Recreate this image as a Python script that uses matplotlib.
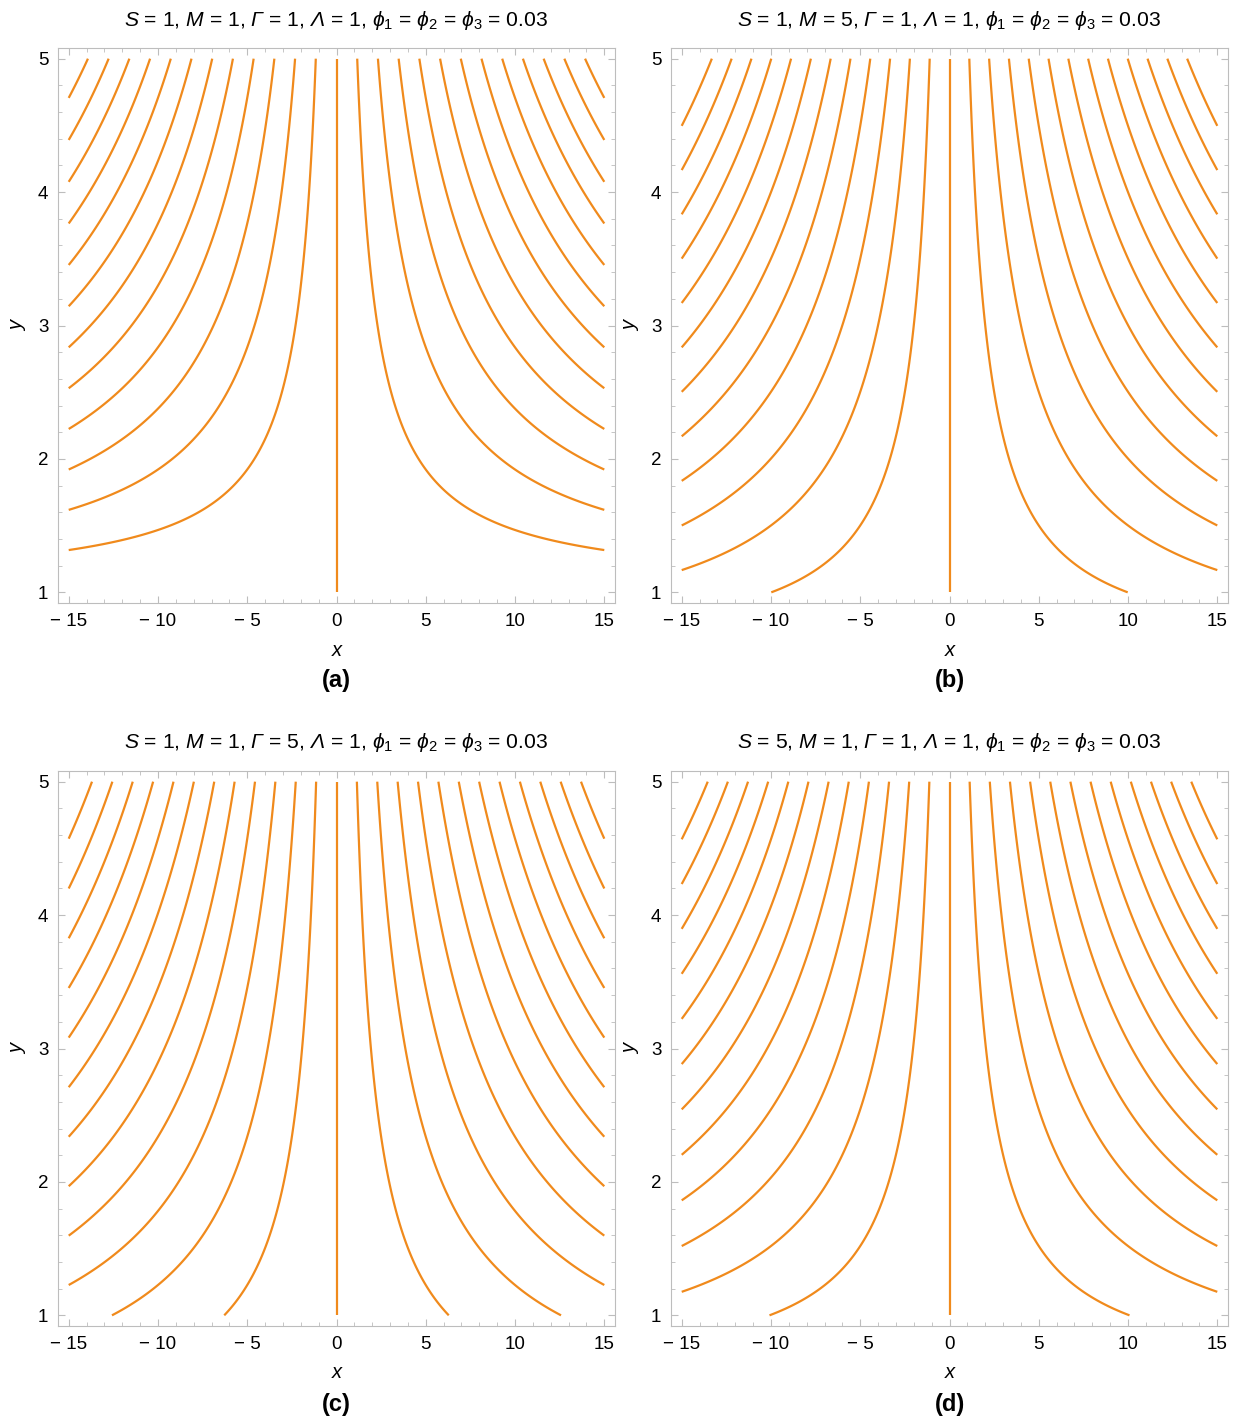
import numpy as np
import matplotlib.pyplot as plt

plt.rcParams['font.family'] = ['Liberation Sans', 'DejaVu Sans']
plt.rcParams['mathtext.fontset'] = 'custom'
plt.rcParams['mathtext.rm'] = 'Liberation Sans'
plt.rcParams['mathtext.it'] = 'Liberation Sans:italic'
plt.rcParams['mathtext.sf'] = 'Liberation Sans:italic'  # used for italic capital Greek
plt.rcParams['mathtext.bf'] = 'Liberation Sans:bold'

W, H = 1238, 1423

titles = [
    r'$S$ = 1, $M$ = 1, $\mathsf{Γ}$ = 1, $\mathsf{Λ}$ = 1, $\phi_1$ = $\phi_2$ = $\phi_3$ = 0.03',
    r'$S$ = 1, $M$ = 5, $\mathsf{Γ}$ = 1, $\mathsf{Λ}$ = 1, $\phi_1$ = $\phi_2$ = $\phi_3$ = 0.03',
    r'$S$ = 1, $M$ = 1, $\mathsf{Γ}$ = 5, $\mathsf{Λ}$ = 1, $\phi_1$ = $\phi_2$ = $\phi_3$ = 0.03',
    r'$S$ = 5, $M$ = 1, $\mathsf{Γ}$ = 1, $\mathsf{Λ}$ = 1, $\phi_1$ = $\phi_2$ = $\phi_3$ = 0.03',
]
tags = ['(a)', '(b)', '(c)', '(d)']

# streamline levels psi = 1..12 on each side of x = 0
n_lev = 12
x_edge = 15.0

# y where each streamline leaves the side edge |x| = 15
edge_lev_a = [1, 2, 3, 4, 5, 6, 7, 8, 9, 10, 11, 12]
edge_y_a = [1.31, 1.62, 1.92, 2.23, 2.53, 2.84, 3.15, 3.46, 3.76, 4.07, 4.38, 4.69]
edge_lev_b = [2, 3, 4, 5, 6, 7, 8, 9, 10, 11, 12]
edge_y_b = [1.17, 1.50, 1.83, 2.17, 2.50, 2.84, 3.17, 3.50, 3.83, 4.17, 4.50]
edge_lev_c = [3, 4, 5, 6, 7, 8, 9, 10, 11, 12]
edge_y_c = [1.22, 1.60, 1.97, 2.34, 2.71, 3.08, 3.45, 3.83, 4.20, 4.57]
edge_lev_d = [2, 3, 4, 5, 6, 7, 8, 9, 10, 11, 12]
edge_y_d = [1.18, 1.52, 1.86, 2.20, 2.54, 2.88, 3.22, 3.56, 3.90, 4.24, 4.58]

# x where streamlines reach the wall y = 1
wall_lev_a, wall_x_a = [], []
wall_lev_b, wall_x_b = [1], [10.0]
wall_lev_c, wall_x_c = [1, 2], [6.3, 12.6]
wall_lev_d, wall_x_d = [1], [10.1]

# x where the outermost streamline reaches y = 5
top_x_a = 14.0
top_x_b = 13.3
top_x_c = 13.7
top_x_d = 13.5

panels = [
    (edge_lev_a, edge_y_a, wall_lev_a, wall_x_a, top_x_a),
    (edge_lev_b, edge_y_b, wall_lev_b, wall_x_b, top_x_b),
    (edge_lev_c, edge_y_c, wall_lev_c, wall_x_c, top_x_c),
    (edge_lev_d, edge_y_d, wall_lev_d, wall_x_d, top_x_d),
]

# axes boxes in pixels: left, top, right, bottom
boxes = [(58, 48, 615, 603), (671, 48, 1228, 603),
         (58, 771, 615, 1326), (671, 771, 1228, 1326)]

col = '#f08a1c'
gcol = '#bdbdbd'

fig = plt.figure(figsize=(W / 100, H / 100), dpi=100)


def profile(edge_lev, edge_y, wall_lev, wall_x, top_x):
    # F(y) so that psi = x * F(y)
    yn = list(edge_y) + [1.0] * len(wall_lev) + [5.0]
    fn = [l / x_edge for l in edge_lev] + [l / w for l, w in zip(wall_lev, wall_x)] + [n_lev / top_x]
    return np.poly1d(np.polyfit(yn, fn, 2))


xg = np.linspace(-15, 15, 600)
yg = np.linspace(1, 5, 500)
X, Y = np.meshgrid(xg, yg)
levs = np.arange(-n_lev, n_lev + 1)

for i, (pan, box, title, tag) in enumerate(zip(panels, boxes, titles, tags)):
    l, t, r, b = box
    ax = fig.add_axes([l / W, 1 - b / H, (r - l) / W, (b - t) / H])
    F = np.maximum(profile(*pan)(Y), 1e-3)
    psi = X * F
    ax.contour(X, Y, psi, levels=levs, colors=col, linewidths=1.6, linestyles='solid')

    ax.set_xlim(-15.6, 15.6)
    ax.set_ylim(0.92, 5.08)
    ax.set_xticks([-15, -10, -5, 0, 5, 10, 15])
    ax.set_xticklabels(['\u2212 15', '\u2212 10', '\u2212 5', '0', '5', '10', '15'])
    ax.set_xticks(np.arange(-15, 16, 1), minor=True)
    ax.set_yticks([1, 2, 3, 4, 5])
    ax.set_yticks(np.arange(1, 5.01, 0.2), minor=True)
    ax.tick_params(which='both', direction='in', top=True, right=True, color=gcol,
                   labelsize=13.5, labelcolor='black')
    ax.tick_params(which='major', length=5, width=0.8, pad=7)
    ax.tick_params(which='minor', length=2.8, width=0.6)
    for s in ax.spines.values():
        s.set_color(gcol)
        s.set_linewidth(0.8)

    cx = (l + r) / 2
    fig.text(cx / W, 1 - (t - 28) / H, title, ha='center', va='center', fontsize=15.2)
    fig.text(cx / W, 1 - (b + 47) / H, 'x', ha='center', va='center', fontsize=14.5, style='italic')
    fig.text((l - 40) / W, 1 - ((t + b) / 2) / H, 'y', ha='center', va='center', fontsize=14.5,
             style='italic', rotation=90)
    fig.text(cx / W, 1 - (b + 78) / H, tag, ha='center', va='center', fontsize=17, weight='bold')

fig.savefig('out.png', dpi=100)
